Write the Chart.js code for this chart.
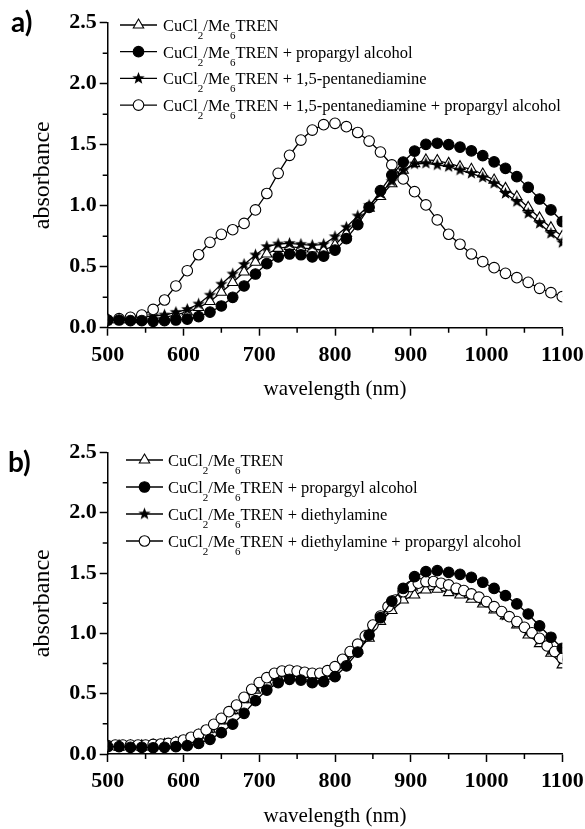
<!DOCTYPE html>
<html>
<head>
<meta charset="utf-8">
<script src="https://cdn.jsdelivr.net/npm/chart.js@4.4.0/dist/chart.umd.min.js"></script>
<style>
html,body{margin:0;padding:0;background:#fff;}
#wrap{position:relative;width:585px;height:829px;overflow:hidden;background:#fff;}
canvas{position:absolute;left:0;}
.lab{position:absolute;font-family:Lato,'Open Sans',sans-serif;font-weight:700;font-size:28px;line-height:28px;color:#000;}
</style>
</head>
<body>
<div id="wrap">
  <canvas id="ca" width="585" height="404" style="top:0px"></canvas>
  <canvas id="cb" width="585" height="425" style="top:404px"></canvas>
  <div class="lab" style="left:11px;top:7px">a)</div>
  <div class="lab" style="left:8px;top:447px">b)</div>
</div>
<script>
// ---------- data ----------
const wl15 = [500,515,530,545,560,575,590,605,620,635,650,665,680,695,710,725,740,755,770,785,800,
              815,830,845,860,875,890,905,920,935,950,965,980,995,1010,1025,1040,1055,1070,1085,1100];
const wl10 = [500,510,520,530,540,550,560,570,580,590,600,610,620,630,640,650,660,670,680,690,700,
              710,720,730,740,750,760,770,780,790,800,810,820,830,840,850,860,870,880,890,900,
              910,920,930,940,950,960,970,980,990,1000,1010,1020,1030,1040,1050,1060,1070,1080,1090,1100];

// panel a
const aBase = [0.065,0.065,0.065,0.068,0.075,0.085,0.105,0.13,0.165,0.215,0.29,0.37,0.456,0.536,0.604,0.65,0.665,0.655,0.645,0.635,0.678,
               0.773,0.877,0.98,1.075,1.18,1.29,1.345,1.375,1.37,1.347,1.32,1.298,1.26,1.21,1.142,1.074,0.986,0.9,0.82,0.75];
const aProp = [0.063,0.063,0.058,0.058,0.052,0.058,0.063,0.071,0.09,0.128,0.178,0.249,0.342,0.44,0.526,0.58,0.604,0.598,0.58,0.587,0.636,
               0.73,0.844,0.987,1.123,1.251,1.358,1.448,1.503,1.512,1.50,1.48,1.45,1.41,1.36,1.306,1.238,1.15,1.055,0.965,0.87];
const aPenta = [0.063,0.068,0.077,0.085,0.096,0.104,0.126,0.15,0.194,0.267,0.357,0.44,0.519,0.596,0.665,0.686,0.691,0.683,0.675,0.683,0.746,
                0.823,0.916,1.003,1.10,1.2,1.29,1.342,1.347,1.334,1.32,1.292,1.265,1.232,1.183,1.1,1.033,0.937,0.855,0.773,0.697];
const aPentaProp = [0.063,0.074,0.085,0.104,0.15,0.227,0.342,0.467,0.598,0.70,0.765,0.803,0.855,0.965,1.10,1.265,1.413,1.538,1.62,1.664,1.675,
                    1.648,1.60,1.53,1.44,1.334,1.219,1.115,1.006,0.883,0.766,0.684,0.604,0.541,0.492,0.446,0.41,0.372,0.323,0.287,0.254];

// panel b
const bBase = [0.065,0.065,0.065,0.067,0.072,0.08,0.095,0.12,0.155,0.205,0.275,0.36,0.45,0.53,0.595,0.635,0.645,0.64,0.63,0.625,0.665,
               0.76,0.86,0.96,1.10,1.19,1.277,1.318,1.36,1.366,1.338,1.318,1.283,1.244,1.194,1.145,1.07,0.987,0.915,0.835,0.739];
const bProp = [0.061,0.061,0.055,0.055,0.052,0.055,0.061,0.069,0.088,0.122,0.177,0.248,0.337,0.442,0.53,0.591,0.619,0.613,0.591,0.6,0.641,
               0.73,0.845,0.985,1.13,1.268,1.373,1.47,1.512,1.52,1.506,1.49,1.465,1.424,1.373,1.313,1.244,1.161,1.062,0.968,0.877];
const bDiethyl = [0.065,0.07,0.07,0.07,0.075,0.08,0.09,0.12,0.155,0.21,0.285,0.365,0.46,0.555,0.625,0.67,0.685,0.675,0.66,0.67,0.715,
                  0.805,0.9,1.01,1.135,1.24,1.335,1.39,1.42,1.415,1.39,1.355,1.315,1.27,1.21,1.15,1.085,1.02,0.945,0.86,0.78];
const bDiethylProp = [0.069,0.074,0.074,0.074,0.074,0.074,0.079,0.083,0.088,0.097,0.116,0.138,0.163,0.199,0.246,0.296,0.351,0.406,0.470,0.536,0.592,
                      0.633,0.669,0.688,0.694,0.688,0.677,0.669,0.669,0.691,0.724,
                      0.785,0.849,0.911,0.978,1.069,1.144,1.222,1.277,1.346,1.388,1.416,1.43,1.43,1.416,1.402,1.374,1.355,1.327,1.30,1.264,
                      1.222,1.181,1.139,1.098,1.05,1.005,0.959,0.896,0.849,0.794];

const xMinor = [550,650,750,850,950,1050];
const yMinor = [0.25,0.75,1.25,1.75,2.25];

const legendA = ['CuCl_2/Me_6TREN', 'CuCl_2/Me_6TREN + propargyl alcohol', 'CuCl_2/Me_6TREN + 1,5-pentanediamine',
                 'CuCl_2/Me_6TREN + 1,5-pentanediamine + propargyl alcohol'];
const legendB = ['CuCl_2/Me_6TREN', 'CuCl_2/Me_6TREN + propargyl alcohol', 'CuCl_2/Me_6TREN + diethylamine',
                 'CuCl_2/Me_6TREN + diethylamine + propargyl alcohol'];

// ---------- styles ----------
function starCanvas(r){
  const s = Math.ceil(r*2+2);
  const c = document.createElement('canvas'); c.width = s; c.height = s;
  const g = c.getContext('2d');
  g.beginPath();
  for (let i=0;i<10;i++){
    const rr = (i%2) ? r*0.42 : r;
    const a = -Math.PI/2 + i*Math.PI/5;
    const px = s/2 + rr*Math.cos(a), py = s/2 + rr*Math.sin(a);
    if (i===0) g.moveTo(px,py); else g.lineTo(px,py);
  }
  g.closePath(); g.fillStyle = '#000'; g.fill();
  return c;
}
const starImg = starCanvas(6.5);

const markerStyles = [
  {pointStyle:'triangle', radius:6, bg:'#fff', order:3},
  {pointStyle:'circle', radius:5.3, bg:'#000', order:0},
  {pointStyle:starImg, radius:6, bg:'#000', order:2},
  {pointStyle:'circle', radius:5.3, bg:'#fff', order:1}
];

function toXY(xs, ys){ return xs.map((x,i)=>({x:x, y:ys[i]})); }

function makeDatasets(list){
  return list.map((d,i)=>{
    const m = markerStyles[i];
    return {
      label: d.label,
      data: toXY(d.x, d.y),
      borderColor:'#000', borderWidth:1.3, fill:false, tension:0,
      pointStyle:m.pointStyle, pointRadius:m.radius,
      pointBackgroundColor:m.bg, pointBorderColor:'#000', pointBorderWidth:1.1,
      order:m.order
    };
  });
}

// ---------- plugins ----------
const minorTicks = {
  id:'minorTicks',
  afterDraw(chart){
    const {ctx, chartArea:a} = chart; const x = chart.scales.x, y = chart.scales.y;
    ctx.save(); ctx.strokeStyle='#000'; ctx.lineWidth=1.5; ctx.beginPath();
    xMinor.forEach(v=>{ const px = x.getPixelForValue(v); ctx.moveTo(px,a.bottom); ctx.lineTo(px,a.bottom+5); });
    yMinor.forEach(v=>{ const py = y.getPixelForValue(v); ctx.moveTo(a.left,py); ctx.lineTo(a.left-5,py); });
    ctx.stroke(); ctx.restore();
  }
};

const customLegend = {
  id:'customLegend',
  afterDraw(chart, args, opts){
    const ctx = chart.ctx;
    ctx.save();
    chart.data.datasets.forEach((ds,i)=>{
      const yy = opts.y0 + i*opts.dy;
      ctx.strokeStyle='#000'; ctx.lineWidth=1.3;
      ctx.beginPath(); ctx.moveTo(opts.x0,yy); ctx.lineTo(opts.x1,yy); ctx.stroke();
      const m = markerStyles[i];
      ctx.fillStyle = m.bg; ctx.strokeStyle='#000'; ctx.lineWidth=1.1;
      Chart.helpers.drawPoint(ctx, {pointStyle:m.pointStyle, radius:m.radius, rotation:0, borderWidth:1.1}, (opts.x0+opts.x1)/2, yy);
      // text with subscripts
      ctx.fillStyle='#000'; ctx.textBaseline='alphabetic'; ctx.textAlign='left';
      let tx = opts.tx; const base = yy + 6;
      const parts = ds.label.split(/_(\d)/);
      parts.forEach((p,k)=>{
        if (!p) return;
        if (k%2===1){ ctx.font = "11px 'Liberation Serif'"; ctx.fillText(p, tx, base+8); }
        else { ctx.font = "16.5px 'Liberation Serif'"; ctx.fillText(p, tx, base); }
        tx += ctx.measureText(p).width;
      });
    });
    ctx.restore();
  }
};

function makeChart(id, datasets, padTop, xHeight, titlePadBottom, legendOpts){
  const tickFont = {family:"'Liberation Serif'", size:22, weight:'bold'};
  return new Chart(document.getElementById(id), {
    type:'line',
    data:{datasets: datasets},
    options:{
      responsive:false, animation:false, devicePixelRatio:1,
      layout:{padding:{left:0, right:22.7, top:padTop, bottom:0}},
      plugins:{legend:{display:false}, tooltip:{enabled:false}, customLegend:legendOpts},
      scales:{
        x:{type:'linear', min:500, max:1100,
           ticks:{stepSize:100, color:'#000', font:tickFont, padding:6, maxRotation:0, autoSkip:false,
                  callback:v=>String(Math.round(v))},
           grid:{display:true, drawOnChartArea:false, drawTicks:true, tickLength:8, tickColor:'#000', tickWidth:1.5},
           border:{display:true, color:'#000', width:1.5},
           title:{display:true, text:'wavelength (nm)', color:'#000',
                  font:{family:"'Liberation Serif'", size:21, lineHeight:1}, padding:{top:0, bottom:titlePadBottom}},
           afterFit(s){ s.height = xHeight; s.paddingLeft = 0; s.paddingRight = 0; }
        },
        y:{type:'linear', min:0, max:2.5,
           ticks:{stepSize:0.5, color:'#000', font:tickFont, padding:3, callback:v=>Number(v).toFixed(1)},
           grid:{display:true, drawOnChartArea:false, drawTicks:true, tickLength:8, tickColor:'#000', tickWidth:1.5},
           border:{display:true, color:'#000', width:1.5},
           title:{display:true, text:'absorbance', color:'#000',
                  font:{family:"'Liberation Serif'", size:24, lineHeight:1}, padding:{top:31, bottom:0}},
           afterFit(s){ s.width = 107.7; s.paddingTop = 0; s.paddingBottom = 0; }
        }
      }
    },
    plugins:[minorTicks, customLegend]
  });
}

const dsA = makeDatasets([
  {label:legendA[0], x:wl15, y:aBase},
  {label:legendA[1], x:wl15, y:aProp},
  {label:legendA[2], x:wl15, y:aPenta},
  {label:legendA[3], x:wl15, y:aPentaProp}
]);
const dsB = makeDatasets([
  {label:legendB[0], x:wl15, y:bBase},
  {label:legendB[1], x:wl15, y:bProp},
  {label:legendB[2], x:wl15, y:bDiethyl},
  {label:legendB[3], x:wl10, y:bDiethylProp}
]);

makeChart('ca', dsA, 22.7, 76.3, 4, {x0:120, x1:157, y0:25, dy:26.7, tx:163});
makeChart('cb', dsB, 48.5, 75, 2, {x0:126, x1:163, y0:56, dy:27, tx:168});
</script>
</body>
</html>
